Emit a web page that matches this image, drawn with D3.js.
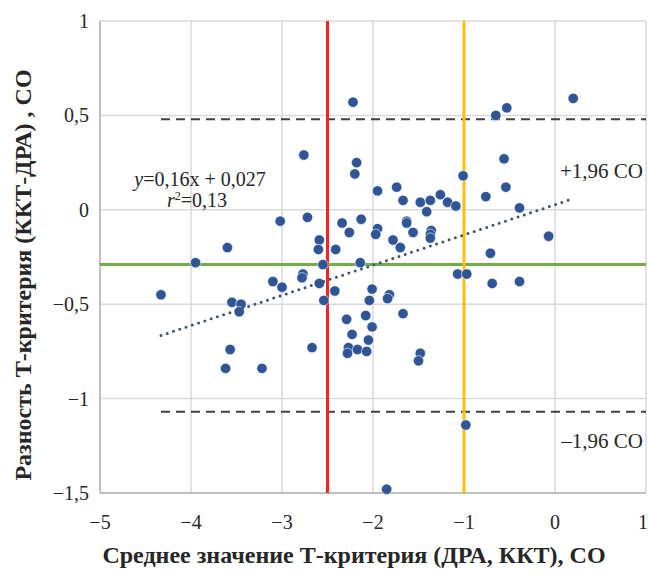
<!DOCTYPE html>
<html>
<head>
<meta charset="utf-8">
<script src="https://cdn.jsdelivr.net/npm/d3@7"></script>
<style>
  body { margin: 0; background: #fff; }
  text { font-family: "Liberation Serif", "DejaVu Serif", serif; fill: #262626; }
</style>
</head>
<body>
<div id="chart"></div>
<script>
/*global d3*/

// mean of the two T-scores (x) and their difference (y)
var meanT = [
  -3.02, -3.60, -2.22, -2.76, -2.18, -2.20, -1.95, -1.74, -1.67, -1.48,
  -1.37, -1.41, -1.26, -1.18, -1.09, -1.01, -2.72, -2.59, -2.60, -2.34,
  -2.26, -2.13, -2.41, -1.95, -1.97, -1.78, -1.70, -1.63, -1.63, -1.56,
  -1.36, -1.37, -1.37, 0.20, -0.53, -0.65, -0.56, -0.54, -0.76, -0.39,
  -0.07, -0.71, -1.07, -0.97, -0.69, -0.39, -3.95, -4.33, -3.10, -3.00,
  -3.55, -3.45, -3.47, -3.57, -3.62, -3.22, -2.55, -2.14, -2.77, -2.78,
  -2.59, -2.42, -2.54, -2.01, -2.04, -1.82, -1.84, -2.29, -2.08, -2.01,
  -1.67, -2.23, -2.05, -2.67, -2.27, -2.28, -2.17, -2.07, -1.48, -1.50,
  -0.98, -1.85
];
var diffT = [
  -0.06, -0.20, 0.57, 0.29, 0.25, 0.19, 0.10, 0.12, 0.05, 0.04,
  0.05, -0.01, 0.08, 0.04, 0.02, 0.18, -0.04, -0.16, -0.21, -0.07,
  -0.12, -0.05, -0.21, -0.10, -0.13, -0.16, -0.20, -0.06, -0.07, -0.12,
  -0.11, -0.13, -0.15, 0.59, 0.54, 0.50, 0.27, 0.12, 0.07, 0.01,
  -0.14, -0.23, -0.34, -0.34, -0.39, -0.38, -0.28, -0.45, -0.38, -0.41,
  -0.49, -0.50, -0.54, -0.74, -0.84, -0.84, -0.29, -0.28, -0.34, -0.36,
  -0.39, -0.43, -0.48, -0.42, -0.48, -0.45, -0.47, -0.58, -0.56, -0.62,
  -0.55, -0.66, -0.69, -0.73, -0.73, -0.76, -0.74, -0.75, -0.76, -0.80,
  -1.14, -1.48
];

var meanDiff = -0.29,
    upperLoA = 0.48,
    lowerLoA = -1.07;
var redCut = -2.5,
    yellowCut = -1.0;
var slope = 0.16,
    intercept = 0.027,
    trendRange = [-4.33, 0.18];

var xTicks = [-5, -4, -3, -2, -1, 0, 1];
var yTicks = [1, 0.5, 0, -0.5, -1, -1.5];

var width = 649,
    height = 575,
    margin = {top: 21, right: 3, bottom: 82, left: 100};

var fmt = function(v) {
  return (v < 0 ? "\u2212" : "") + String(Math.abs(v)).replace(".", ",");
};

var svg = d3.select("#chart").append("svg")
  .attr("width", width)
  .attr("height", height);

var x = d3.scaleLinear().domain([-5, 1]).range([margin.left, width - margin.right]);
var y = d3.scaleLinear().domain([-1.5, 1]).range([height - margin.bottom, margin.top]);

// gridlines
svg.append("g")
  .selectAll("line.vg")
  .data(xTicks)
  .enter().append("line")
  .attr("x1", d => x(d)).attr("x2", d => x(d))
  .attr("y1", y(1)).attr("y2", y(-1.5))
  .style("stroke", "#d9d9d9").style("stroke-width", 1.5);

svg.append("g")
  .selectAll("line.hg")
  .data(yTicks)
  .enter().append("line")
  .attr("x1", x(-5)).attr("x2", x(1))
  .attr("y1", d => y(d)).attr("y2", d => y(d))
  .style("stroke", "#d9d9d9").style("stroke-width", 1.5);

// axis frame (left and bottom darker)
svg.append("line")
  .attr("x1", x(-5)).attr("x2", x(-5)).attr("y1", y(1)).attr("y2", y(-1.5))
  .style("stroke", "#bfbfbf").style("stroke-width", 2);
svg.append("line")
  .attr("x1", x(-5)).attr("x2", x(1)).attr("y1", y(-1.5)).attr("y2", y(-1.5))
  .style("stroke", "#bfbfbf").style("stroke-width", 2);

// tick labels (last one pulled in so it stays on the page)
svg.append("g")
  .selectAll("text")
  .data(xTicks)
  .enter().append("text")
  .attr("x", (d, i) => i === xTicks.length - 1 ? width - 1 : x(d))
  .attr("y", 529)
  .attr("text-anchor", (d, i) => i === xTicks.length - 1 ? "end" : "middle")
  .style("font-size", "20px")
  .text(fmt);

svg.append("g")
  .selectAll("text")
  .data(yTicks)
  .enter().append("text")
  .attr("x", 89)
  .attr("y", d => y(d) + 7)
  .attr("text-anchor", "end")
  .style("font-size", "20px")
  .text(fmt);

// limits of agreement
[upperLoA, lowerLoA].forEach(function(v) {
  svg.append("line")
    .attr("x1", x(trendRange[0])).attr("x2", x(1))
    .attr("y1", y(v)).attr("y2", y(v))
    .style("stroke", "#404040")
    .style("stroke-width", 2)
    .style("stroke-dasharray", "9,6");
});

// mean difference
svg.append("line")
  .attr("x1", x(-5)).attr("x2", x(1))
  .attr("y1", y(meanDiff)).attr("y2", y(meanDiff))
  .style("stroke", "#70ad47")
  .style("stroke-width", 3);

// cut-offs
svg.append("line")
  .attr("x1", x(redCut)).attr("x2", x(redCut))
  .attr("y1", y(1)).attr("y2", y(-1.5))
  .style("stroke", "#f22424").style("stroke-width", 3);
svg.append("line")
  .attr("x1", x(yellowCut)).attr("x2", x(yellowCut))
  .attr("y1", y(1)).attr("y2", y(-1.5))
  .style("stroke", "#ffc000").style("stroke-width", 3);

// points
svg.append("g")
  .selectAll("circle")
  .data(meanT.map((d, i) => [d, diffT[i]]))
  .enter().append("circle")
  .attr("cx", d => x(d[0]))
  .attr("cy", d => y(d[1]))
  .attr("r", 5.2)
  .style("fill", "#2f5597")
  .style("stroke", "#ffffff")
  .style("stroke-width", 0.6);

// linear trend
svg.append("line")
  .attr("x1", x(trendRange[0])).attr("y1", y(slope * trendRange[0] + intercept))
  .attr("x2", x(trendRange[1])).attr("y2", y(slope * trendRange[1] + intercept))
  .style("stroke", "#44546a")
  .style("stroke-width", 3)
  .style("stroke-linecap", "round")
  .style("stroke-dasharray", "0,6.6");

// equation
var eq = svg.append("text")
  .attr("x", 200).attr("y", 186)
  .attr("text-anchor", "middle")
  .style("font-size", "20px");
eq.append("tspan").style("font-style", "italic").text("y");
eq.append("tspan").text("=0,16x + 0,027");

var r2 = svg.append("text")
  .attr("x", 197).attr("y", 207)
  .attr("text-anchor", "middle")
  .style("font-size", "20px");
r2.append("tspan").style("font-style", "italic").text("r");
r2.append("tspan").attr("dy", -7).style("font-size", "12px").text("2");
r2.append("tspan").attr("dy", 7).text("=0,13");

svg.append("text")
  .attr("x", 643).attr("y", 178)
  .attr("text-anchor", "end")
  .style("font-size", "21px")
  .text("+1,96 СО");
svg.append("text")
  .attr("x", 643).attr("y", 448)
  .attr("text-anchor", "end")
  .style("font-size", "21px")
  .text("\u20131,96 СО");

// axis titles
svg.append("text")
  .attr("x", 354).attr("y", 563)
  .attr("text-anchor", "middle")
  .style("font-size", "24px")
  .style("font-weight", "bold")
  .text("Среднее значение Т-критерия (ДРА, ККТ), СО");

svg.append("text")
  .attr("transform", "translate(31,275) rotate(-90)")
  .attr("text-anchor", "middle")
  .style("font-size", "24px")
  .style("font-weight", "bold")
  .text("Разность Т-критерия (ККТ-ДРА) , СО");
</script>
</body>
</html>
